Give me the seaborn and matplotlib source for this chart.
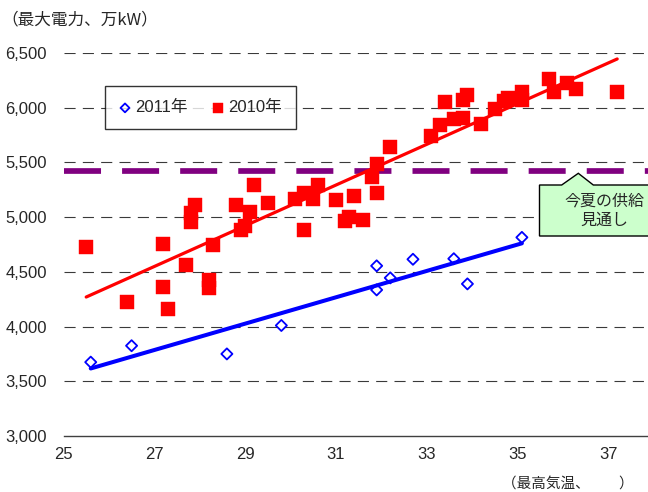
import matplotlib
matplotlib.use("Agg")
import matplotlib.pyplot as plt
from matplotlib.patches import Polygon
from matplotlib.ticker import FuncFormatter, MultipleLocator
import numpy as np
import pandas as pd
import seaborn as sns

# Daily peak demand vs. daily maximum temperature
temp_2010 = [25.5, 26.4, 27.2, 27.2, 27.3, 27.7, 27.8, 27.8, 27.9, 28.2,
             28.2, 28.3, 28.8, 28.9, 29.0, 29.1, 29.2, 29.5, 30.1, 30.3,
             30.5, 30.6, 30.3, 31.0, 31.4, 31.3, 31.2, 31.6, 31.8, 31.9,
             31.9, 32.2, 33.1, 33.3, 33.4, 33.6, 33.8, 33.8, 33.9, 34.2,
             34.5, 34.7, 34.8, 35.1, 35.1, 35.7, 35.8, 36.1, 36.3, 37.2]
power_2010 = [4730, 4220, 4755, 4360, 4165, 4565, 4960, 5035, 5115, 4425,
              4350, 4745, 5115, 4880, 4915, 5050, 5290, 5130, 5170, 5220,
              5170, 5295, 4880, 5155, 5195, 5000, 4965, 4975, 5370, 5490,
              5225, 5645, 5740, 5840, 6050, 5895, 5910, 6070, 6120, 5850,
              5985, 6060, 6085, 6140, 6070, 6260, 6145, 6230, 6175, 6145]

temp_2011 = [25.6, 26.5, 28.6, 29.8, 31.9, 31.9, 32.2, 32.7, 33.6, 33.9, 35.1]
power_2011 = [3675, 3825, 3750, 4010, 4555, 4335, 4445, 4615, 4620, 4390, 4815]

supply_outlook = 5420
series_labels = ["2011年", "2010年"]

df10 = pd.DataFrame({"temp": temp_2010, "power": power_2010})
df11 = pd.DataFrame({"temp": temp_2011, "power": power_2011})

sns.set_style("white")
plt.rcParams["font.family"] = ["Liberation Sans", "Noto Sans CJK JP"]
jp = ["Noto Sans CJK JP", "Liberation Sans"]

W, H = 648, 492
fig = plt.figure(figsize=(W / 100, H / 100), dpi=100)
ax = fig.add_axes([63.5 / W, 56 / H, 590 / W, 383 / H])

ax.set_xlim(25, 38)
ax.set_ylim(3000, 6500)

# horizontal dashed grid
for yv in range(3500, 6501, 500):
    ax.axhline(yv, color="#3a3a3a", lw=0.8, dashes=(10, 6.5), zorder=1)

# supply outlook level
ax.axhline(supply_outlook, color="#800080", lw=4.1, dashes=(6.5, 3.7), zorder=2)

# linear trend lines
sns.regplot(data=df10, x="temp", y="power", scatter=False, ci=None, truncate=True,
            line_kws=dict(color="#ff0000", lw=2.3, zorder=3), ax=ax)
sns.regplot(data=df11, x="temp", y="power", scatter=False, ci=None, truncate=True,
            line_kws=dict(color="#0000ff", lw=2.9, zorder=3), ax=ax)

sns.scatterplot(data=df10, x="temp", y="power", marker="s", s=88,
                color="#ff0000", edgecolor="#ff0000", linewidth=0.3, zorder=4, ax=ax)
h10 = ax.collections[-1]
sns.scatterplot(data=df11, x="temp", y="power", marker="D", s=32,
                facecolor="none", edgecolor="#0000ff", linewidth=1.3, zorder=4, ax=ax)
h11 = ax.collections[-1]

ax.set_xlabel("")
ax.set_ylabel("")
ax.set_xticks(np.arange(25, 38, 2))
ax.yaxis.set_major_locator(MultipleLocator(500))
ax.yaxis.set_major_formatter(FuncFormatter(lambda v, p: f"{v:,.0f}"))
ax.tick_params(axis="x", direction="in", length=4, width=0.8, color="#404040",
               labelsize=12, pad=8)
ax.tick_params(axis="y", length=0, labelsize=12, pad=12)
for s in ["top", "right", "left"]:
    ax.spines[s].set_visible(False)
ax.spines["bottom"].set_color("#404040")
ax.spines["bottom"].set_linewidth(1.0)

leg = ax.legend([h11, h10], series_labels, ncol=2, loc="upper left",
                bbox_to_anchor=(105 / W, 1 - 86 / H), bbox_transform=fig.transFigure,
                borderaxespad=0, frameon=True, fancybox=False, markerscale=0.8,
                handlelength=0.7, handletextpad=0.25, columnspacing=1.5,
                borderpad=0.85, prop={"size": 12})
leg.get_frame().set_edgecolor("black")
leg.get_frame().set_linewidth(1.0)
leg.set_zorder(6)

# axis titles
fig.text(1 / W, 1 - 20 / H, "（最大電力、万kW）", family=jp, fontsize=12,
         ha="left", va="center")
fig.text(502 / W, 1 - 484 / H, "（最高気温、　　）", family=jp, fontsize=10.5,
         ha="left", va="center")

# callout box
pts = [(539.5, 185), (561.7, 185), (578.3, 173.3), (593.3, 185), (660, 185),
       (660, 236), (539.5, 236)]
callout = Polygon([(x / W, 1 - y / H) for x, y in pts], closed=True,
                  transform=fig.transFigure, facecolor="#ccffcc",
                  edgecolor="black", lw=1.0, zorder=7)
fig.patches.append(callout)
fig.text(604 / W, 1 - 211 / H, "今夏の供給\n見通し", family=jp, fontsize=11.5,
         ha="center", va="center", linespacing=1.15, zorder=8)

fig.savefig("out.png", dpi=100)
